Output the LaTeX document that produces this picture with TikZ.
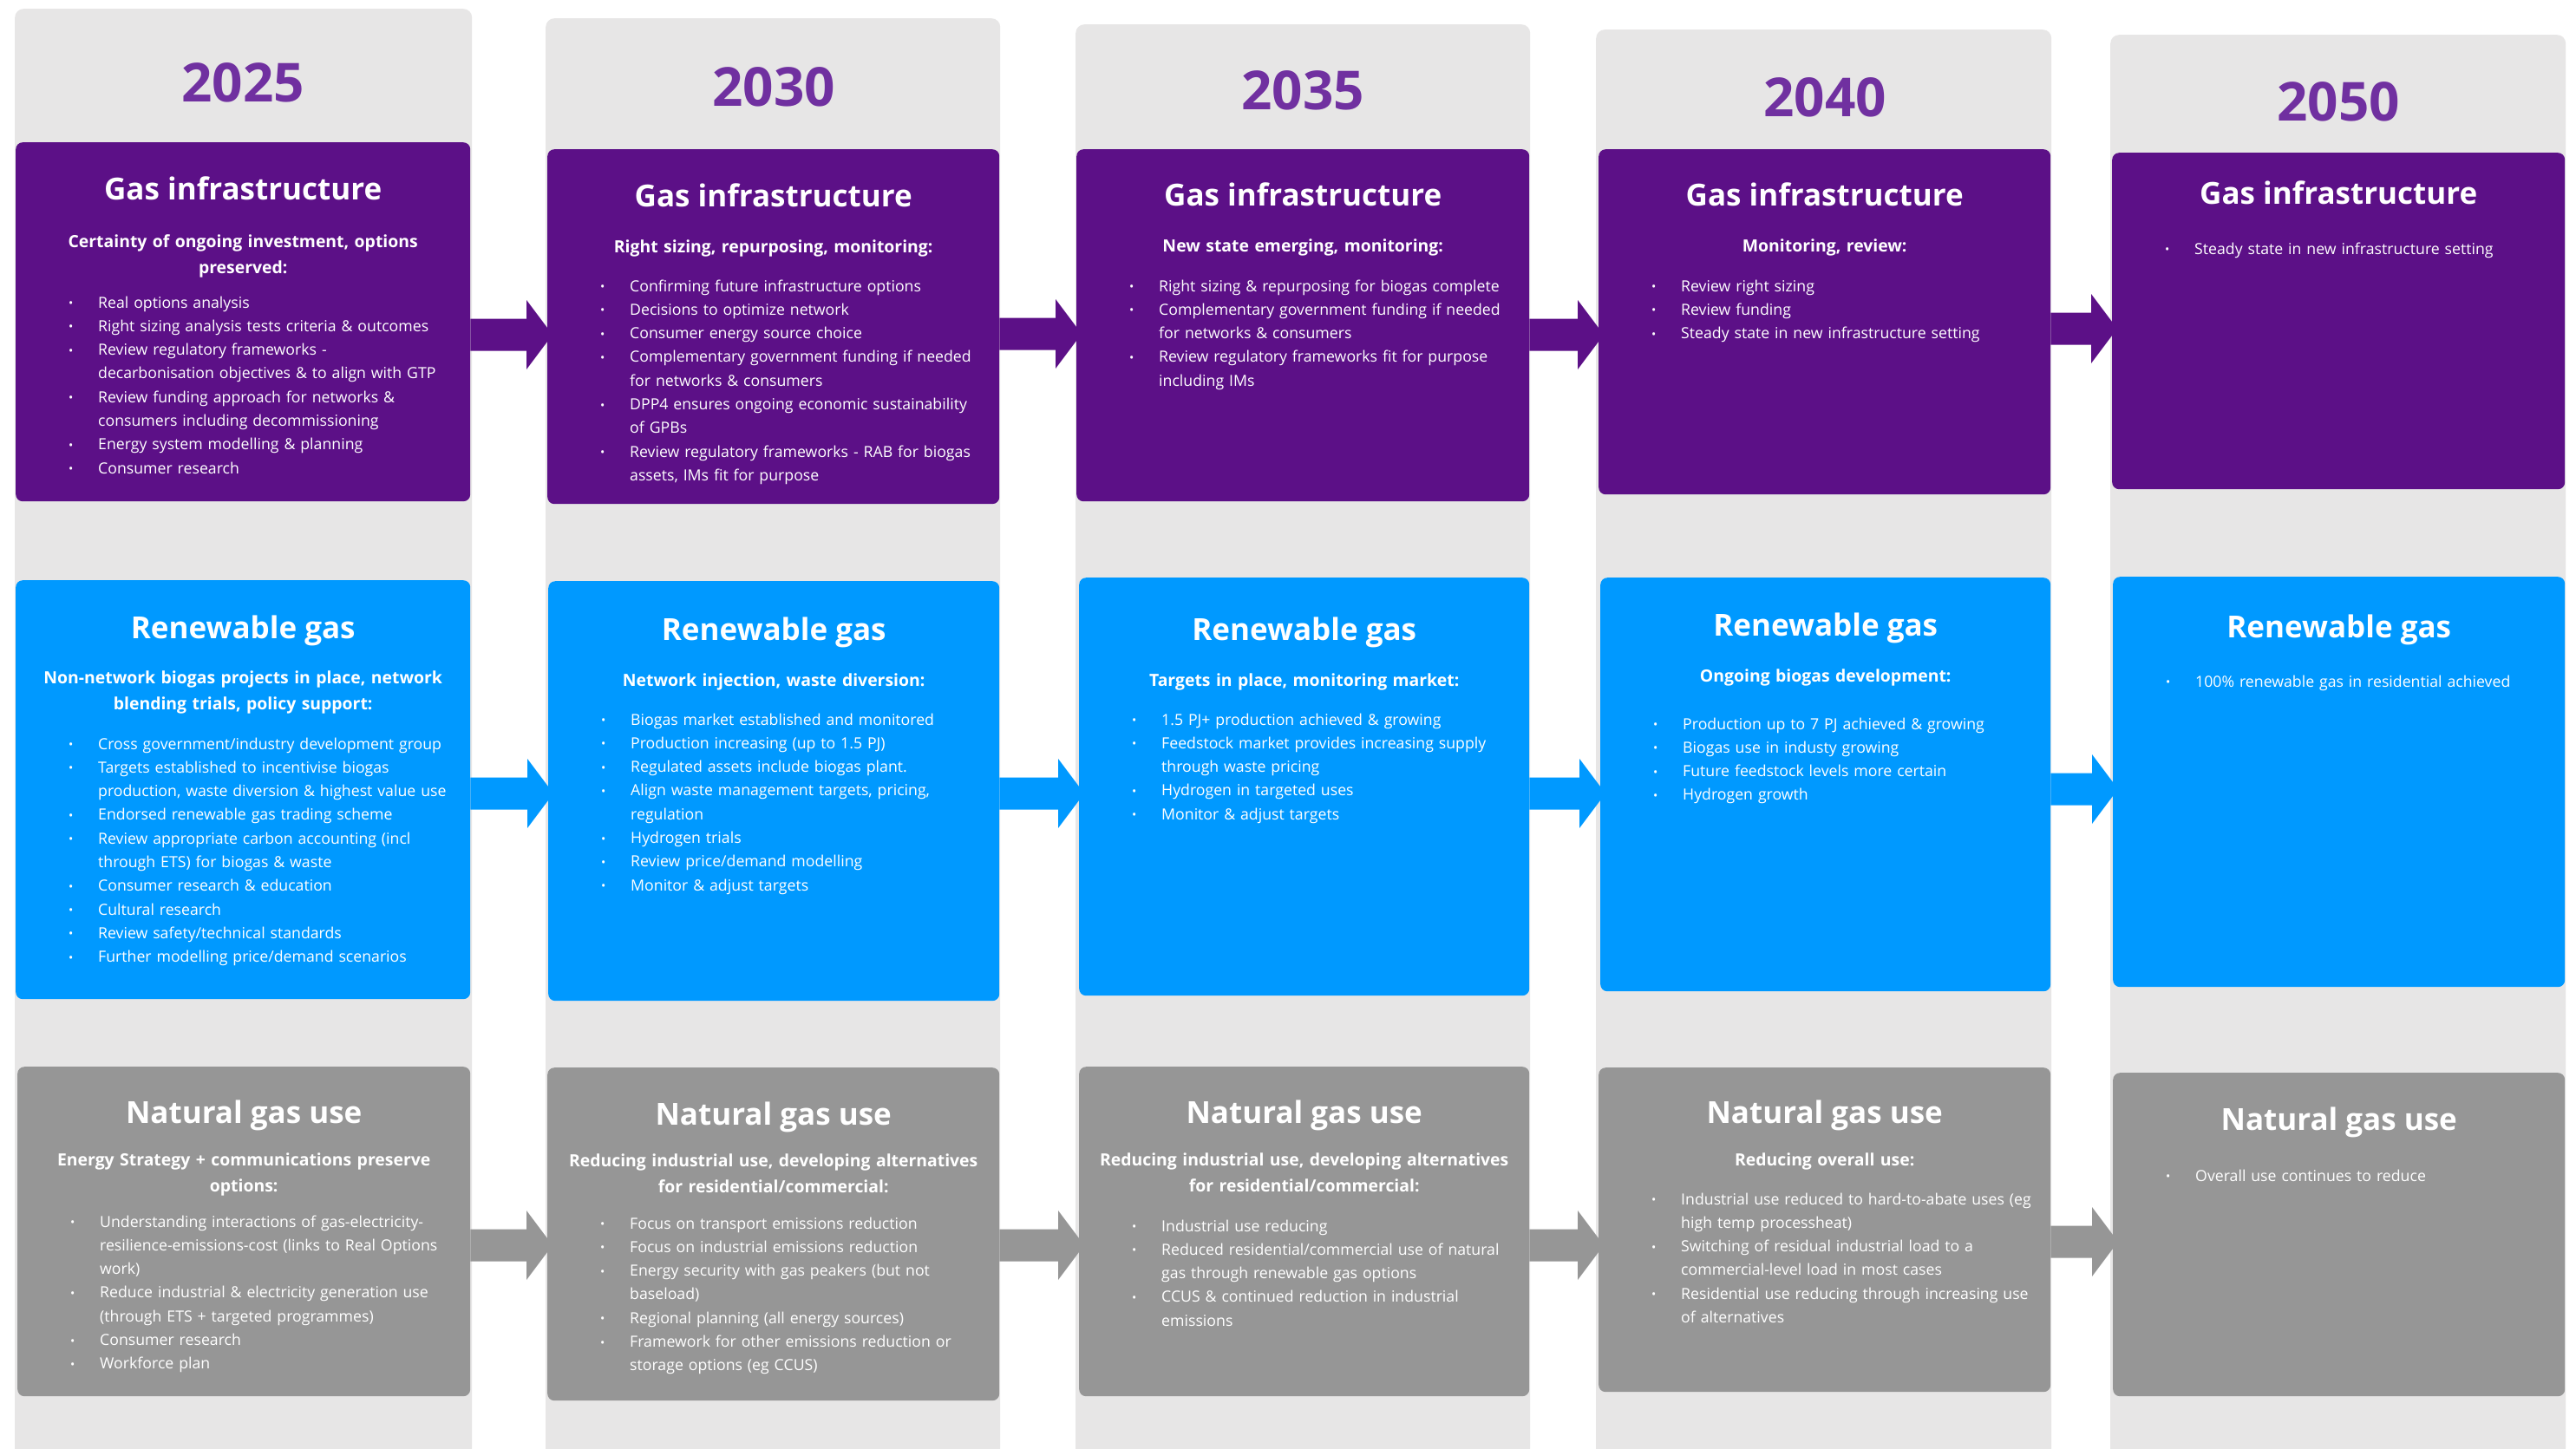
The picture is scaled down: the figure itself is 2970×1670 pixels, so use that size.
\documentclass[tikz,border=0pt]{standalone}
\usepackage{fontspec}
\setmainfont{Open Sans}
\usetikzlibrary{calc}
\definecolor{purp}{RGB}{92,16,135}
\definecolor{blu}{RGB}{0,153,255}
\definecolor{gry}{RGB}{150,150,150}
\definecolor{colbg}{RGB}{231,230,230}
\definecolor{yearc}{RGB}{112,48,160}
\newcommand\bl[1]{\hangindent=34pt\hangafter=1\noindent\hbox to 34pt{\raisebox{0.5pt}{\fontsize{14}{14}\selectfont •}\hss}#1\par}
\newcommand\barrow[4]{\fill[#4] let \p1=(#1.east |- #3), \p2=(#2.west |- #3) in
  (\x1,\y1+18.5pt) -- (\x2-24pt,\y1+18.5pt) -- (\x2-24pt,\y1+40pt) -- (\x2+6pt,\y1)
  -- (\x2-24pt,\y1-40pt) -- (\x2-24pt,\y1-18.5pt) -- (\x1,\y1-18.5pt) -- cycle;}
\begin{document}
\begin{tikzpicture}[x=1pt,y=-1pt,
  colbox/.style={fill=colbg,rounded corners=10pt,inner sep=0,anchor=north west,minimum height=1700pt},
  box/.style={rounded corners=8pt,inner sep=0,anchor=north west},
  year/.style={font=\fontsize{62}{70}\selectfont\bfseries,text=yearc,inner sep=0},
  ttl/.style={font=\fontsize{35}{40}\selectfont\bfseries,text=white,anchor=base,inner sep=0},
  sub/.style={font=\fontsize{19.4}{30}\selectfont\bfseries,text=white,anchor=base,inner sep=0,text width=510pt,align=center},
  lst/.style={font=\fontsize{17.7}{27.3}\selectfont,text=white,anchor=base west,inner sep=0,text width=480pt,align=left}]
\useasboundingbox (0,0) rectangle (2970,1670);
\fill[white] (0,0) rectangle (2970,1670);
% columns
\node[colbox,minimum width=527pt] (c1) at (17,10) {};
\node[colbox,minimum width=524pt] (c2) at (629,21) {};
\node[colbox,minimum width=524pt] (c3) at (1240,28) {};
\node[colbox,minimum width=525pt] (c4) at (1840,34) {};
\node[colbox,minimum width=525pt] (c5) at (2433,40) {};
\node[year] (y1) at (280,95) {2025};
\node[year] (y2) at (892,100) {2030};
\node[year] (y3) at (1502,104) {2035};
\node[year] (y4) at (2104,112) {2040};
\node[year] (y5) at (2696,117) {2050};
% boxes
\node[box,fill=purp,minimum width=524pt,minimum height=414pt] (p1) at (18,164) {};
\node[box,fill=purp,minimum width=521pt,minimum height=409pt] (p2) at (631,172) {};
\node[box,fill=purp,minimum width=522pt,minimum height=406pt] (p3) at (1241,172) {};
\node[box,fill=purp,minimum width=521pt,minimum height=398pt] (p4) at (1843,172) {};
\node[box,fill=purp,minimum width=522pt,minimum height=388pt] (p5) at (2435,176) {};
\node[box,fill=blu,minimum width=524pt,minimum height=483pt] (b1) at (18,669) {};
\node[box,fill=blu,minimum width=520pt,minimum height=484pt] (b2) at (632,670) {};
\node[box,fill=blu,minimum width=519pt,minimum height=482pt] (b3) at (1244,666) {};
\node[box,fill=blu,minimum width=519pt,minimum height=477pt] (b4) at (1845,666) {};
\node[box,fill=blu,minimum width=521pt,minimum height=473pt] (b5) at (2436,665) {};
\node[box,fill=gry,minimum width=522pt,minimum height=380pt] (g1) at (20,1230) {};
\node[box,fill=gry,minimum width=521pt,minimum height=384pt] (g2) at (631,1231) {};
\node[box,fill=gry,minimum width=519pt,minimum height=380pt] (g3) at (1244,1230) {};
\node[box,fill=gry,minimum width=521pt,minimum height=374pt] (g4) at (1843,1231) {};
\node[box,fill=gry,minimum width=521pt,minimum height=373pt] (g5) at (2436,1237) {};
% arrows
\coordinate (pa1) at (0,386); \coordinate (pa2) at (0,385); \coordinate (pa3) at (0,386); \coordinate (pa4) at (0,379);
\coordinate (ba1) at (0,915); \coordinate (ba2) at (0,915); \coordinate (ba3) at (0,915); \coordinate (ba4) at (0,910);
\coordinate (ga1) at (0,1436); \coordinate (ga2) at (0,1436); \coordinate (ga3) at (0,1436); \coordinate (ga4) at (0,1432);
\barrow{p1}{p2}{pa1}{purp} \barrow{p2}{p3}{pa2}{purp} \barrow{p3}{p4}{pa3}{purp} \barrow{p4}{p5}{pa4}{purp}
\barrow{b1}{b2}{ba1}{blu} \barrow{b2}{b3}{ba2}{blu} \barrow{b3}{b4}{ba3}{blu} \barrow{b4}{b5}{ba4}{blu}
\barrow{g1}{g2}{ga1}{gry} \barrow{g2}{g3}{ga2}{gry} \barrow{g3}{g4}{ga3}{gry} \barrow{g4}{g5}{ga4}{gry}
% ---- Gas infrastructure
\node[ttl] (p1t) at ($(p1.north)+(0,66)$) {Gas infrastructure};
\node[sub] (p1s) at ($(p1.north)+(0,121)$) {Certainty of ongoing investment, options\\preserved:};
\node[lst] (p1l) at ($(p1.north west)+(61,191)$) {\bl{Real options analysis}\bl{Right sizing analysis tests criteria \& outcomes}\bl{Review regulatory frameworks -\newline decarbonisation objectives \& to align with GTP}\bl{Review funding approach for networks \&\newline consumers including decommissioning}\bl{Energy system modelling \& planning}\bl{Consumer research}};
\node[ttl] (p2t) at ($(p2.north)+(0,66)$) {Gas infrastructure};
\node[sub] (p2s) at ($(p2.north)+(0,119)$) {Right sizing, repurposing, monitoring:};
\node[lst] (p2l) at ($(p2.north west)+(61,164)$) {\bl{Confirming future infrastructure options}\bl{Decisions to optimize network}\bl{Consumer energy source choice}\bl{Complementary government funding if needed\newline for networks \& consumers}\bl{DPP4 ensures ongoing economic sustainability\newline of GPBs}\bl{Review regulatory frameworks - RAB for biogas\newline assets, IMs fit for purpose}};
\node[ttl] (p3t) at ($(p3.north)+(0,65)$) {Gas infrastructure};
\node[sub] (p3s) at ($(p3.north)+(0,118)$) {New state emerging, monitoring:};
\node[lst] (p3l) at ($(p3.north west)+(61,164)$) {\bl{Right sizing \& repurposing for biogas complete}\bl{Complementary government funding if needed\newline for networks \& consumers}\bl{Review regulatory frameworks fit for purpose\newline including IMs}};
\node[ttl] (p4t) at ($(p4.north)+(0,65)$) {Gas infrastructure};
\node[sub] (p4s) at ($(p4.north)+(0,118)$) {Monitoring, review:};
\node[lst] (p4l) at ($(p4.north west)+(61,164)$) {\bl{Review right sizing}\bl{Review funding}\bl{Steady state in new infrastructure setting}};
\node[ttl] (p5t) at ($(p5.north)+(0,59)$) {Gas infrastructure};
\node[lst] (p5l) at ($(p5.north west)+(61,117)$) {\bl{Steady state in new infrastructure setting}};
% ---- Renewable gas
\node[ttl] (b1t) at ($(b1.north)+(0,67)$) {Renewable gas};
\node[sub] (b1s) at ($(b1.north)+(0,119)$) {Non-network biogas projects in place, network\\blending trials, policy support:};
\node[lst] (b1l) at ($(b1.north west)+(61,195)$) {\bl{Cross government/industry development group}\bl{Targets established to incentivise biogas\newline production, waste diversion \& highest value use}\bl{Endorsed renewable gas trading scheme}\bl{Review appropriate carbon accounting (incl\newline through ETS) for biogas \& waste}\bl{Consumer research \& education}\bl{Cultural research}\bl{Review safety/technical standards}\bl{Further modelling price/demand scenarios}};
\node[ttl] (b2t) at ($(b2.north)+(0,68)$) {Renewable gas};
\node[sub] (b2s) at ($(b2.north)+(0,121)$) {Network injection, waste diversion:};
\node[lst] (b2l) at ($(b2.north west)+(61,166)$) {\bl{Biogas market established and monitored}\bl{Production increasing (up to 1.5 PJ)}\bl{Regulated assets include biogas plant.}\bl{Align waste management targets, pricing,\newline regulation}\bl{Hydrogen trials}\bl{Review price/demand modelling}\bl{Monitor \& adjust targets}};
\node[ttl] (b3t) at ($(b3.north)+(0,72)$) {Renewable gas};
\node[sub] (b3s) at ($(b3.north)+(0,125)$) {Targets in place, monitoring market:};
\node[lst] (b3l) at ($(b3.north west)+(61,170)$) {\bl{1.5 PJ+ production achieved \& growing}\bl{Feedstock market provides increasing supply\newline through waste pricing}\bl{Hydrogen in targeted uses}\bl{Monitor \& adjust targets}};
\node[ttl] (b4t) at ($(b4.north)+(0,67)$) {Renewable gas};
\node[sub] (b4s) at ($(b4.north)+(0,120)$) {Ongoing biogas development:};
\node[lst] (b4l) at ($(b4.north west)+(61,175)$) {\bl{Production up to 7 PJ achieved \& growing}\bl{Biogas use in industy growing}\bl{Future feedstock levels more certain}\bl{Hydrogen growth}};
\node[ttl] (b5t) at ($(b5.north)+(0,70)$) {Renewable gas};
\node[lst] (b5l) at ($(b5.north west)+(61,127)$) {\bl{100\% renewable gas in residential achieved}};
% ---- Natural gas use
\node[ttl] (g1t) at ($(g1.north)+(0,65)$) {Natural gas use};
\node[sub] (g1s) at ($(g1.north)+(0,114)$) {Energy Strategy + communications preserve\\options:};
\node[lst] (g1l) at ($(g1.north west)+(61,185)$) {\bl{Understanding interactions of gas-electricity-\newline resilience-emissions-cost (links to Real Options\newline work)}\bl{Reduce industrial \& electricity generation use\newline (through ETS + targeted programmes)}\bl{Consumer research}\bl{Workforce plan}};
\node[ttl] (g2t) at ($(g2.north)+(0,66)$) {Natural gas use};
\node[sub] (g2s) at ($(g2.north)+(0,114)$) {Reducing industrial use, developing alternatives\\for residential/commercial:};
\node[lst] (g2l) at ($(g2.north west)+(61,186)$) {\bl{Focus on transport emissions reduction}\bl{Focus on industrial emissions reduction}\bl{Energy security with gas peakers (but not\newline baseload)}\bl{Regional planning (all energy sources)}\bl{Framework for other emissions reduction or\newline storage options (eg CCUS)}};
\node[ttl] (g3t) at ($(g3.north)+(0,65)$) {Natural gas use};
\node[sub] (g3s) at ($(g3.north)+(0,114)$) {Reducing industrial use, developing alternatives\\for residential/commercial:};
\node[lst] (g3l) at ($(g3.north west)+(61,190)$) {\bl{Industrial use reducing}\bl{Reduced residential/commercial use of natural\newline gas through renewable gas options}\bl{CCUS \& continued reduction in industrial\newline emissions}};
\node[ttl] (g4t) at ($(g4.north)+(0,64)$) {Natural gas use};
\node[sub] (g4s) at ($(g4.north)+(0,113)$) {Reducing overall use:};
\node[lst] (g4l) at ($(g4.north west)+(61,158)$) {\bl{Industrial use reduced to hard-to-abate uses (eg\newline high temp processheat)}\bl{Switching of residual industrial load to a\newline commercial-level load in most cases}\bl{Residential use reducing through increasing use\newline of alternatives}};
\node[ttl] (g5t) at ($(g5.north)+(0,66)$) {Natural gas use};
\node[lst] (g5l) at ($(g5.north west)+(61,125)$) {\bl{Overall use continues to reduce}};
\end{tikzpicture}
\end{document}
